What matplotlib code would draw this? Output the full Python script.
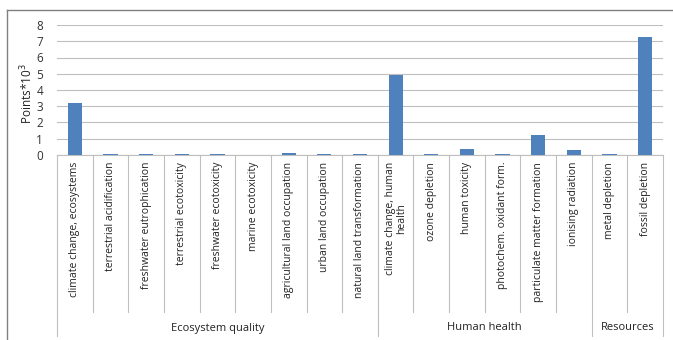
import numpy as np
import matplotlib.pyplot as plt
from matplotlib import transforms
from matplotlib.lines import Line2D

plt.rcParams['font.family'] = ['Open Sans', 'DejaVu Sans']

categories = ['climate change, ecosystems', 'terrestrial acidification', 'freshwater eutrophication',
              'terrestrial ecotoxicity', 'freshwater ecotoxicity', 'marine ecotoxicity',
              'agricultural land occupation', 'urban land occupation', 'natural land transformation',
              'climate change, human\nhealth', 'ozone depletion', 'human toxicity',
              'photochem. oxidant form.', 'particulate matter formation', 'ionising radiation',
              'metal depletion', 'fossil depletion']
values = [3.2, 0.05, 0.05, 0.05, 0.05, 0.0, 0.1, 0.06, 0.09,
          4.95, 0.05, 0.38, 0.05, 1.2, 0.3, 0.05, 7.25]
groups = ['Ecosystem quality', 'Human health', 'Resources']
group_sizes = [9, 6, 2]

fig = plt.figure(figsize=(6.73, 3.4), dpi=100)
ax = fig.add_axes([57/673, 1-155/340, 606/673, 130/340])

x = np.arange(len(values))
ax.bar(x, values, width=0.4, color='#4f81bd', zorder=3)
ax.set_xlim(-0.5, len(values) - 0.5)
ax.set_ylim(0, 8)
ax.set_yticks(range(9))
ax.yaxis.grid(True, color='#bfbfbf', lw=0.8)
ax.set_axisbelow(True)
for s in ['top', 'right', 'left']:
    ax.spines[s].set_visible(False)
ax.spines['bottom'].set_color('#bfbfbf')
ax.tick_params(axis='y', length=0, labelsize=8.5, colors='#333333', pad=10)
ax.tick_params(axis='x', length=0, labelbottom=False)
ax.set_ylabel('Points*10$^3$', fontsize=8.5, color='#222222')
ax.yaxis.set_label_coords(-0.036, 0.47)

trans = transforms.blended_transform_factory(ax.transData, fig.transFigure)
lc = '#bfbfbf'
ybase = 1 - 155/340
ycat = 1 - 312/340
ygrp = 1 - 336/340

# category labels and separators
for i, c in enumerate(categories):
    ax.text(i, ybase - 0.02, c, transform=trans, rotation=90, ha='center', va='top',
            fontsize=7.5, color='#222222', linespacing=1.0, multialignment='center')
bounds = np.cumsum([0] + group_sizes) - 0.5
for b in np.arange(-0.5, len(values)):
    y0 = ygrp if b in bounds else ycat
    fig.add_artist(Line2D([b, b], [ybase, y0], transform=trans, color=lc, lw=0.8))

# group labels
starts = np.cumsum([0] + group_sizes[:-1])
for g, s, n in zip(groups, starts, group_sizes):
    ax.text(s - 0.5 + n / 2, 1 - 328/340, g, transform=trans, ha='center', va='center',
            fontsize=8, color='#222222')

# outer chart border (top and left only visible)
fig.add_artist(Line2D([7/673, 1], [1-10/340, 1-10/340], transform=fig.transFigure, color='#808080', lw=1))
fig.add_artist(Line2D([7/673, 7/673], [1-10/340, 0], transform=fig.transFigure, color='#808080', lw=1))

fig.savefig('out.png', dpi=100)
